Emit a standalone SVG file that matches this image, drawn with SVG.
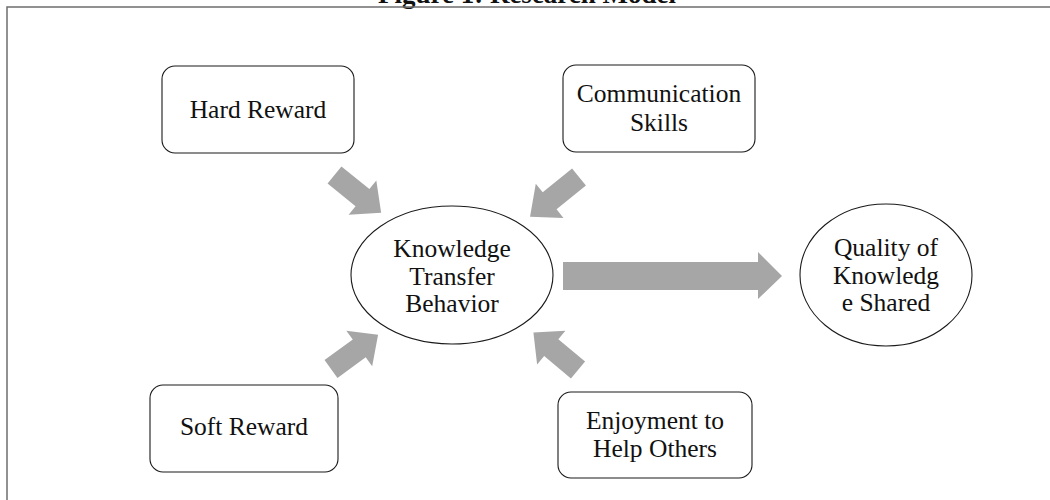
<svg xmlns="http://www.w3.org/2000/svg" width="1050" height="500" viewBox="0 0 1050 500">
  <style>
    .frame { fill: none; stroke: #6e6e6e; stroke-width: 1.5; }
    .box { fill: #ffffff; stroke: #1a1a1a; stroke-width: 1.1; }
    .lbl { font-family: "Liberation Serif", "Times New Roman", serif; font-size: 25.5px; fill: #111111; text-anchor: middle; }
    .title { font-family: "Liberation Serif", "Times New Roman", serif; font-size: 27px; font-weight: bold; fill: #111111; text-anchor: middle; }
    .arrow { fill: #a6a6a6; }
  </style>
  <defs>
    <!-- block arrow pointing along +x, tail centre at origin -->
    <polygon id="blk" points="0,-11 36,-11 36,-22 60,0 36,22 36,11 0,11"/>
  </defs>
  <rect width="1050" height="500" fill="#ffffff"/>

  <!-- caption and outer frame -->
  <text class="title" x="527" y="3">Figure 1: Research Model</text>
  <rect class="frame" x="7" y="7" width="1100" height="600"/>

  <g id="connectors">
    <use href="#blk" class="arrow" transform="translate(334.5,175) rotate(39)"/>
    <use href="#blk" class="arrow" transform="translate(579,177) rotate(141) scale(1.05,1)"/>
    <use href="#blk" class="arrow" transform="translate(331,369) rotate(-36) scale(0.97,1)"/>
    <use href="#blk" class="arrow" transform="translate(578,370) rotate(-140) scale(0.97,1)"/>
    <polygon class="arrow" points="563,262 758,262 758,252 782,276 758,299 758,290 563,290"/>
  </g>

  <g id="hard-reward">
    <rect class="box" x="162" y="66" width="192" height="87" rx="13"/>
    <text class="lbl" x="258" y="118">Hard Reward</text>
  </g>

  <g id="communication-skills">
    <rect class="box" x="563" y="65" width="192" height="87" rx="13"/>
    <text class="lbl" x="659" y="102">Communication</text>
    <text class="lbl" x="659" y="131">Skills</text>
  </g>

  <g id="soft-reward">
    <rect class="box" x="150" y="385" width="188" height="87" rx="13"/>
    <text class="lbl" x="244" y="435">Soft Reward</text>
  </g>

  <g id="enjoyment">
    <rect class="box" x="558" y="392" width="194" height="86" rx="13"/>
    <text class="lbl" x="655" y="429">Enjoyment to</text>
    <text class="lbl" x="655" y="457">Help Others</text>
  </g>

  <g id="knowledge-transfer">
    <ellipse class="box" cx="452" cy="275" rx="101" ry="69"/>
    <text class="lbl" x="452" y="257">Knowledge</text>
    <text class="lbl" x="452" y="285">Transfer</text>
    <text class="lbl" x="452" y="312">Behavior</text>
  </g>

  <g id="quality-shared">
    <ellipse class="box" cx="886" cy="275" rx="86" ry="71"/>
    <text class="lbl" x="886" y="256">Quality of</text>
    <text class="lbl" x="886" y="284">Knowledg</text>
    <text class="lbl" x="886" y="311">e Shared</text>
  </g>
</svg>
